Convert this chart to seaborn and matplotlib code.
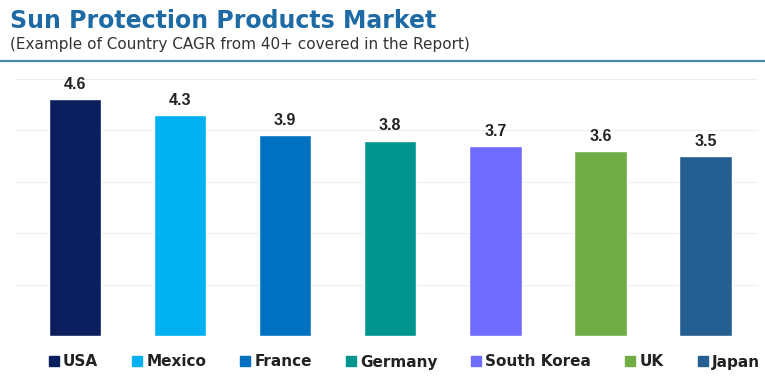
import matplotlib
matplotlib.use("Agg")
import matplotlib.pyplot as plt
from matplotlib.lines import Line2D
import seaborn as sns
import pandas as pd

countries = ["USA", "Mexico", "France", "Germany", "South Korea", "UK", "Japan"]
cagr = [4.6, 4.3, 3.9, 3.8, 3.7, 3.6, 3.5]
colors = ["#0b1f5e", "#00b0f0", "#0070c0", "#00968f", "#6f6cff", "#70ad47", "#255e91"]

df = pd.DataFrame({"country": countries, "cagr": cagr})
palette = dict(zip(countries, colors))

sns.set_theme(style="white")
plt.rcParams["font.family"] = ["DejaVu Sans"]

fig = plt.figure(figsize=(7.65, 3.85), dpi=100)
ax = fig.add_axes([15 / 765, 1 - 336 / 385, (758 - 15) / 765, 270 / 385])

sns.barplot(data=df, x="country", y="cagr", hue="country", palette=palette,
            dodge=False, legend=False, width=0.5, saturation=1, ax=ax)

ax.set_ylim(0, 5.25)
ax.set_xlim(-0.57, 6.5)
ax.set_yticks([1, 2, 3, 4, 5])
ax.yaxis.grid(True, color="#eeeeee", linewidth=0.8)
ax.set_axisbelow(True)
ax.set_xticks([])
ax.tick_params(left=False, labelleft=False)
ax.set_xlabel("")
ax.set_ylabel("")
for s in ax.spines.values():
    s.set_visible(False)

for i, v in enumerate(cagr):
    ax.text(i, v + 0.14, f"{v}", ha="center", va="bottom", family="Liberation Sans",
            fontsize=11.5, fontweight="bold", color="#222222")

# Header
fig.text(10 / 765, 1 - 21 / 385, "Sun Protection Products Market", ha="left", va="center",
         fontsize=17, fontweight="bold", color="#1d6aa5")
fig.text(10 / 765, 1 - 45 / 385, "(Example of Country CAGR from 40+ covered in the Report)",
         ha="left", va="center", fontsize=11, color="#333333")
fig.add_artist(Line2D([0, 1], [1 - 61 / 385, 1 - 61 / 385], color="#4a86a6",
                      linewidth=1.6, transform=fig.transFigure))

# Legend
handles = [Line2D([0], [0], marker="s", linestyle="", markersize=7,
                  markerfacecolor=c, markeredgecolor=c) for c in colors]
leg = fig.legend(handles, countries, loc="center", bbox_to_anchor=(403 / 765, 1 - 362 / 385),
                 ncol=7, frameon=False, handletextpad=0.1, handlelength=1.0,
                 columnspacing=2.05, prop={"size": 11, "weight": "bold"})
for t in leg.get_texts():
    t.set_color("#222222")

fig.savefig("out.png", dpi=100)
